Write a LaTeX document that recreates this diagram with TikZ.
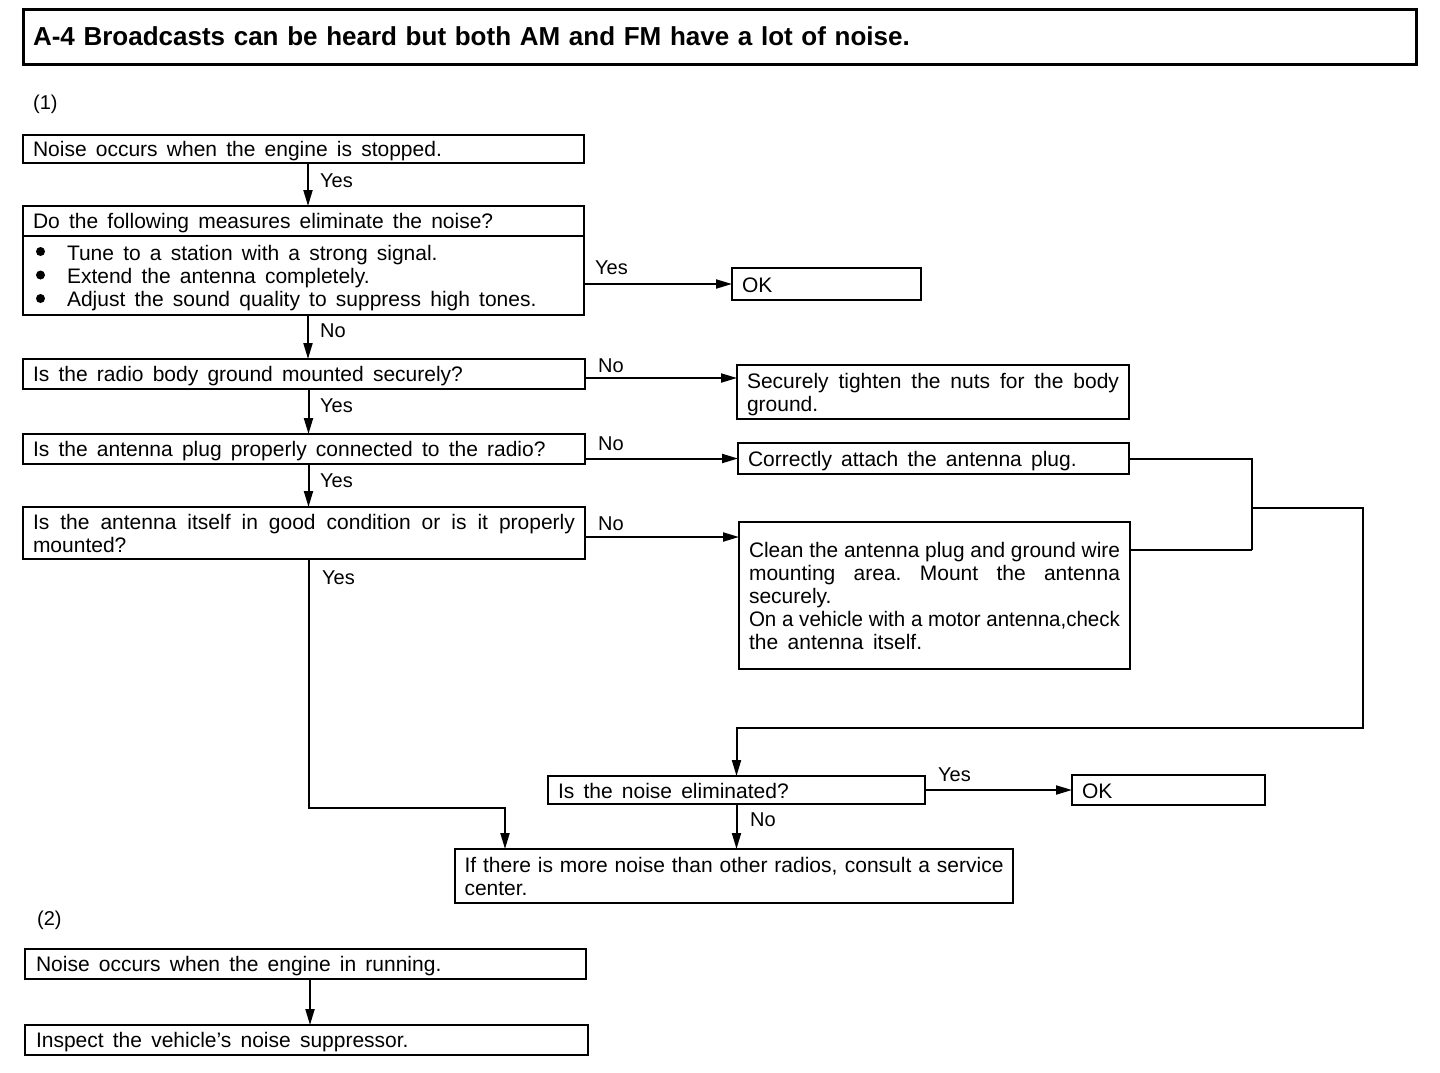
\documentclass[tikz,border=0pt]{standalone}
\usepackage{fontspec}
\setmainfont{Liberation Sans}
\usetikzlibrary{arrows.meta}
\newcommand\fs{\fontsize{21}{23.5}\selectfont}
\newcommand\fsb{\fontsize{21}{23.2}\selectfont}
\newcommand\fsc{\fontsize{21}{23}\selectfont}
\newcommand\widesp{\spaceskip=9.2pt plus 5pt minus 3pt\xspaceskip=\spaceskip}
\newcommand\normsp{\spaceskip=5.84pt plus 6pt minus 2pt\xspaceskip=\spaceskip}
\newcommand\blt{\hspace*{34pt}}
\newcommand\jline[1]{\makebox[\hsize][s]{#1}}
\newcommand\fitline[1]{\resizebox{\hsize}{\height}{#1}}
\newcommand\topstrut{\widesp\rule{0pt}{20pt}}
\newcommand\topstrutc{\normsp\rule{0pt}{20pt}}
\newcommand\botstrut{\rule[-4pt]{0pt}{0pt}}
\begin{document}
\begin{tikzpicture}[x=1pt,y=-1pt,
 box/.style={draw, line width=2pt, rectangle, anchor=north west, inner xsep=10pt, inner ysep=0pt, outer sep=0pt, align=left, font=\fs,
   execute at begin node=\topstrut, execute at end node=\botstrut},
 lbl/.style={anchor=west, inner sep=0pt, font=\fontsize{20}{22}\selectfont},
 arr/.style={line width=2pt, -{Triangle[length=16pt,width=9pt]}},
 ln/.style={line width=2pt},
 dot/.style={fill=black}]
\useasboundingbox (0,0) rectangle (1440,1072);
% title
\node[draw, line width=3pt, rectangle, anchor=north west, inner xsep=10pt, inner ysep=0pt, outer sep=0pt, align=left,
  text width=1373pt, minimum height=55pt, font=\fontsize{26}{28}\selectfont\bfseries] (title) at (23,9)
  {A-4 Broadcasts can be heard but both AM and FM have a lot of noise.};
\node[lbl] (p1) at (33,104) {(1)};
% boxes of part 1
\node[box, text width=541pt, minimum height=28pt] (b1) at (23,135) {Noise occurs when the engine is stopped.};
\node[box, text width=541pt, minimum height=30pt] (b2h) at (23,206) {Do the following measures eliminate the noise?};
\node[box, text width=541pt, minimum height=79pt, font=\fsb] (b2) at (23,236)
  {\blt Tune to a station with a strong signal.\\\blt Extend the antenna completely.\\\blt Adjust the sound quality to suppress high tones.};
\fill[dot] (40.5,251.5) circle (4.5);
\fill[dot] (40.5,275) circle (4.5);
\fill[dot] (40.5,298.5) circle (4.5);
\node[box, text width=169pt, minimum height=32pt] (ok1) at (732,268) {OK};
\node[box, text width=542pt, minimum height=30pt] (b3) at (23,359) {Is the radio body ground mounted securely?};
\node[box, text width=372pt, minimum height=54pt] (s1) at (737,365)
  {\jline{Securely tighten the nuts for the body}\\ground.};
\node[box, text width=542pt, minimum height=30pt] (b4) at (23,434) {Is the antenna plug properly connected to the radio?};
\node[box, text width=371pt, minimum height=31pt] (s2) at (738,443) {Correctly attach the antenna plug.};
\node[box, text width=542pt, minimum height=52pt] (b5) at (23,507)
  {\jline{Is the antenna itself in good condition or is it properly}\\mounted?};
\node[box, text width=371pt, minimum height=147pt, font=\fsc, execute at begin node=\topstrutc] (s3) at (739,522)
  {\fitline{Clean the antenna plug and ground wire}\\\jline{mounting area. Mount the antenna}\\securely.\\\fitline{On a vehicle with a motor antenna,check}\\the\hspace{9.5pt}antenna\hspace{9.5pt}itself.};
\node[box, text width=357pt, minimum height=28pt] (q) at (548,776) {Is the noise eliminated?};
\node[box, text width=173pt, minimum height=30pt] (ok2) at (1072,775) {OK};
\node[box, text width=539pt, minimum height=54pt, inner xsep=9.5pt] (f) at (455,849)
  {\jline{If there is more noise than other radios, consult a service}\\center.};
% part 2
\node[lbl] (p2) at (37,920) {(2)};
\node[box, text width=539pt, minimum height=30pt, inner xsep=11pt] (r1) at (25,949) {Noise occurs when the engine in running.};
\node[box, text width=541pt, minimum height=30pt, inner xsep=11pt] (r2) at (25,1025) {Inspect the vehicle’s noise suppressor.};
% connectors
\draw[arr] ([xshift=4.5pt]b1.south) -- ([xshift=4.5pt]b1.south |- b2h.north);
\node[lbl] (y1) at (320,181) {Yes};
\draw[arr] (b2.east |- ok1.west) -- (ok1.west);
\node[lbl] (y2) at (595,268) {Yes};
\draw[arr] ([xshift=4.5pt]b2.south) -- ([xshift=4.5pt]b2.south |- b3.north);
\node[lbl] (n1) at (320,331) {No};
\draw[arr] ([yshift=-4pt]b3.east) -- ([yshift=-4pt]b3.east -| s1.west);
\node[lbl] (n2) at (598,366) {No};
\draw[arr] ([xshift=4.5pt]b3.south) -- ([xshift=4.5pt]b3.south |- b4.north);
\node[lbl] (y3) at (320,406) {Yes};
\draw[arr] (b4.east |- s2.west) -- (s2.west);
\node[lbl] (n3) at (598,444) {No};
\draw[arr] ([xshift=4.5pt]b4.south) -- ([xshift=4.5pt]b4.south |- b5.north);
\node[lbl] (y4) at (320,481) {Yes};
\draw[arr] ([yshift=-4pt]b5.east) -- ([yshift=-4pt]b5.east -| s3.west);
\node[lbl] (n4) at (598,524) {No};
\coordinate (jd) at (505,808);
\draw[arr] ([xshift=4.5pt]b5.south) |- (jd) -- (jd |- f.north);
\node[lbl] (y5) at (322,578) {Yes};
% right-hand loop
\coordinate (ja) at (1252,550);
\coordinate (jb) at (1252,508);
\coordinate (jc) at (1363,728);
\draw[ln] (s2.east) -| (ja);
\draw[ln] ([yshift=-28pt]s3.north east) -- (ja);
\draw[arr] (jb) -| (jc) -| (q.north);
\draw[arr] (q.east) -- (ok2.west);
\node[lbl] (y6) at (938,775) {Yes};
\draw[arr] (q.south) -- (q.south |- f.north);
\node[lbl] (n5) at (750,820) {No};
\draw[arr] ([xshift=4.5pt]r1.south) -- ([xshift=4.5pt]r1.south |- r2.north);
\end{tikzpicture}
\end{document}
